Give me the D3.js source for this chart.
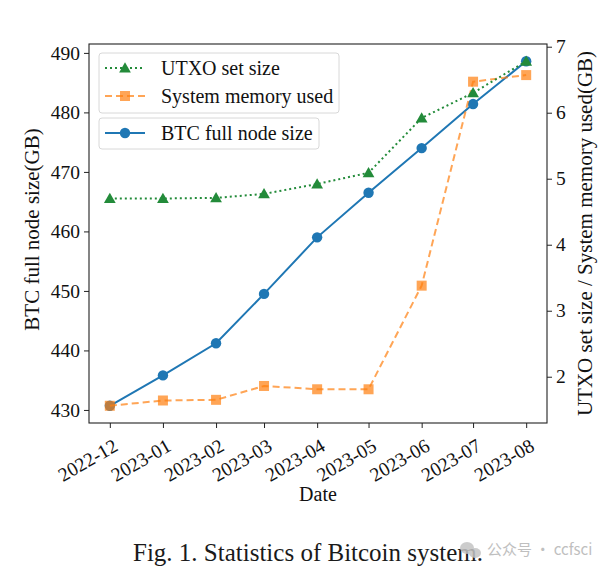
<!DOCTYPE html>
<html><head><meta charset="utf-8">
<script src="https://cdn.jsdelivr.net/npm/d3@7"></script>
<style>
html,body{margin:0;padding:0;background:#fff;}
svg{display:block;font-family:"Liberation Serif","Times New Roman",serif;}
</style></head>
<body>
<svg id="chart" width="612" height="573"></svg>
<script>
const months = ["2022-12","2023-01","2023-02","2023-03","2023-04","2023-05","2023-06","2023-07","2023-08"];
const btcFullNodeSize = [430.7, 435.8, 441.2, 449.5, 459.0, 466.5, 474.0, 481.4, 488.6];
const utxoSetSize = [4.70, 4.70, 4.71, 4.77, 4.92, 5.09, 5.92, 6.30, 6.78];
const systemMemoryUsed = [1.56, 1.64, 1.65, 1.86, 1.81, 1.81, 3.38, 6.47, 6.57];
const leftTicks = [430, 440, 450, 460, 470, 480, 490];
const rightTicks = [2, 3, 4, 5, 6, 7];

const svg = d3.select("#chart");
const L = 89, R = 547, T = 44, B = 423;
const parse = d3.timeParse("%Y-%m");
const dates = months.map(parse);

function pad(ext, f) { const r = ext[1] - ext[0]; return [ext[0] - f * r, ext[1] + f * r]; }
const dExt = d3.extent(dates);
const span = +dExt[1] - +dExt[0];
const x = d3.scaleTime().domain([new Date(+dExt[0] - 0.05 * span), new Date(+dExt[1] + 0.05 * span)]).range([L, R]);
const yL = d3.scaleLinear().domain(pad(d3.extent(btcFullNodeSize), 0.05)).range([B, T]);
const yR = d3.scaleLinear().domain(pad(d3.extent(utxoSetSize.concat(systemMemoryUsed)), 0.05)).range([B, T]);

const blue = "#1f77b4", orange = "#ff7f0e", green = "#238b3a";

// axes
const axL = svg.append("g").attr("transform", `translate(${L},0)`)
  .call(d3.axisLeft(yL).tickValues(leftTicks).tickSize(5).tickPadding(4).tickFormat(d3.format("d")));
const axR = svg.append("g").attr("transform", `translate(${R},0)`)
  .call(d3.axisRight(yR).tickValues(rightTicks).tickSize(5).tickPadding(4).tickFormat(d3.format("d")));
const axB = svg.append("g").attr("transform", `translate(0,${B})`)
  .call(d3.axisBottom(x).tickValues(dates).tickSize(5).tickPadding(4).tickFormat(d3.timeFormat("%Y-%m")));
[axL, axR, axB].forEach(a => {
  a.select(".domain").remove();
  a.selectAll("line").attr("stroke", "#222").attr("stroke-width", 1);
  a.selectAll("text").attr("fill", "#111").style("font-size", "19.5px").style("font-family", "Liberation Serif, serif");
});
axB.selectAll("text")
  .attr("text-anchor", "end")
  .attr("dy", "0.35em")
  .attr("transform", "translate(1,13) rotate(-30)");

svg.append("rect").attr("x", L).attr("y", T).attr("width", R - L).attr("height", B - T)
  .attr("fill", "none").attr("stroke", "#222").attr("stroke-width", 1.1);

// lines
const plot = svg.append("g");
const lineL = d3.line().x((d, i) => x(dates[i])).y(d => yL(d));
const lineR = d3.line().x((d, i) => x(dates[i])).y(d => yR(d));

plot.append("path").datum(btcFullNodeSize).attr("d", lineL).attr("fill", "none")
  .attr("stroke", blue).attr("stroke-width", 2);
plot.selectAll(".bdot").data(btcFullNodeSize).enter().append("circle")
  .attr("cx", (d, i) => x(dates[i])).attr("cy", d => yL(d)).attr("r", 5.2).attr("fill", blue);

plot.append("path").datum(systemMemoryUsed).attr("d", lineR).attr("fill", "none")
  .attr("stroke", orange).attr("stroke-opacity", 0.7).attr("stroke-width", 2).attr("stroke-dasharray", "7,4");
plot.selectAll(".osq").data(systemMemoryUsed).enter().append("rect")
  .attr("x", (d, i) => x(dates[i]) - 5).attr("y", d => yR(d) - 5).attr("width", 10).attr("height", 10)
  .attr("fill", orange).attr("fill-opacity", 0.7);

const tri = d3.symbol().type(d3.symbolTriangle).size(60);
plot.append("path").datum(utxoSetSize).attr("d", lineR).attr("fill", "none")
  .attr("stroke", green).attr("stroke-width", 2).attr("stroke-dasharray", "2,3");
plot.selectAll(".gtri").data(utxoSetSize).enter().append("path")
  .attr("d", tri).attr("transform", (d, i) => `translate(${x(dates[i])},${yR(d) + 1})`).attr("fill", green);

// legends
function legendBox(x0, y0, w, h) {
  svg.append("rect").attr("x", x0).attr("y", y0).attr("width", w).attr("height", h).attr("rx", 3)
    .attr("fill", "#fff").attr("fill-opacity", 0.85).attr("stroke", "#d8d8d8").attr("stroke-width", 1);
}
legendBox(99, 53, 240, 60);
legendBox(99, 118, 220, 31);
function legendItem(cy, label, kind) {
  const g = svg.append("g");
  if (kind === "utxo") {
    g.append("line").attr("x1", 105).attr("x2", 145).attr("y1", cy).attr("y2", cy)
      .attr("stroke", green).attr("stroke-width", 2).attr("stroke-dasharray", "2,3");
    g.append("path").attr("d", tri).attr("transform", `translate(125,${cy + 1})`).attr("fill", green);
  } else if (kind === "mem") {
    g.append("line").attr("x1", 105).attr("x2", 145).attr("y1", cy).attr("y2", cy)
      .attr("stroke", orange).attr("stroke-opacity", 0.7).attr("stroke-width", 2).attr("stroke-dasharray", "7,4");
    g.append("rect").attr("x", 120).attr("y", cy - 5).attr("width", 10).attr("height", 10)
      .attr("fill", orange).attr("fill-opacity", 0.7);
  } else {
    g.append("line").attr("x1", 105).attr("x2", 145).attr("y1", cy).attr("y2", cy)
      .attr("stroke", blue).attr("stroke-width", 2);
    g.append("circle").attr("cx", 125).attr("cy", cy).attr("r", 5.2).attr("fill", blue);
  }
  g.append("text").attr("x", 161).attr("y", cy).attr("dy", "0.35em").text(label)
    .style("font-size", "20px").attr("fill", "#111");
}
legendItem(68, "UTXO set size", "utxo");
legendItem(96, "System memory used", "mem");
legendItem(133, "BTC full node size", "btc");

// axis titles
svg.append("text").attr("transform", `translate(39,${(T + B) / 2 - 4}) rotate(-90)`).attr("text-anchor", "middle")
  .style("font-size", "21px").attr("fill", "#111").text("BTC full node size(GB)");
svg.append("text").attr("transform", `translate(577,${(T + B) / 2}) rotate(-90)`).attr("text-anchor", "middle")
  .attr("dy", "0.7em").style("font-size", "21px").attr("fill", "#111").text("UTXO set size / System memory used(GB)");
svg.append("text").attr("x", (L + R) / 2).attr("y", 501).attr("text-anchor", "middle")
  .style("font-size", "20px").attr("fill", "#111").text("Date");

// caption
svg.append("text").attr("x", 133).attr("y", 561).style("font-size", "25px").attr("fill", "#1a1a1a")
  .text("Fig. 1. Statistics of Bitcoin system.");

// watermark
const wm = svg.append("g").attr("opacity", 0.85);
wm.append("ellipse").attr("cx", 467).attr("cy", 548).attr("rx", 7).attr("ry", 6).attr("fill", "#c4c4c4");
wm.append("ellipse").attr("cx", 475).attr("cy", 553).attr("rx", 6).attr("ry", 5).attr("fill", "#c4c4c4");
wm.append("text").attr("x", 487).attr("y", 555).style("font-family", "Noto Sans CJK SC, sans-serif")
  .style("font-size", "15px").attr("fill", "#b5b5b5").text("公众号 · ccfsci");
</script>
</body></html>
